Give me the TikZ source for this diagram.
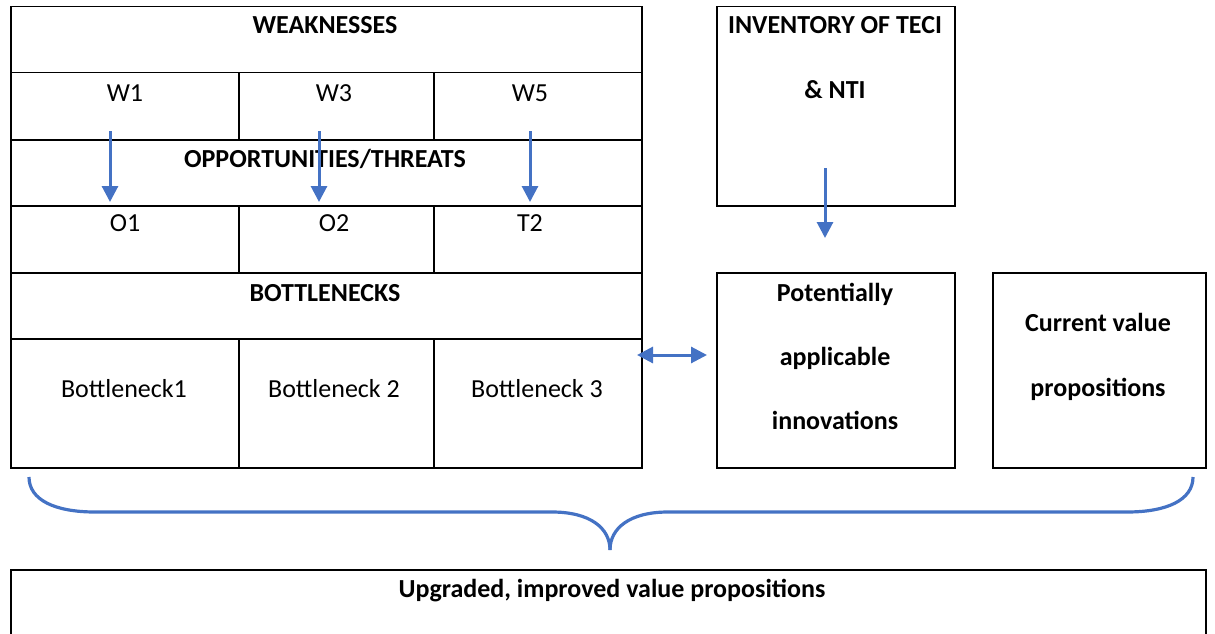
\documentclass[tikz,border=0pt]{standalone}
\usepackage{fontspec}
\setmainfont{Carlito}
\usetikzlibrary{arrows.meta}
\definecolor{accblue}{HTML}{4472C4}
\begin{document}
\begin{tikzpicture}[x=1pt,y=-1pt,
  cell/.style={draw, line width=1.5pt, inner sep=0pt, anchor=north west},
  txt/.style={anchor=base, inner sep=0pt, font=\fontsize{26}{30}\selectfont},
  btxt/.style={txt, font=\fontsize{26}{30}\selectfont\bfseries},
  flow/.style={accblue, line width=3pt, -{Triangle[width=16pt,length=16pt]}},
  both/.style={accblue, line width=3pt, {Triangle[width=16pt,length=16pt]}-{Triangle[width=16pt,length=16pt]}},
  brace/.style={accblue, line width=3.2pt}]
\clip (0,0) rectangle (1215,634);
\useasboundingbox (0,0) rectangle (1215,634);
% left table
\node[cell, minimum width=631pt, minimum height=66pt] (weak) at (10,6) {};
\node[cell, minimum width=228pt, minimum height=67pt] (w1) at (10,72) {};
\node[cell, minimum width=195pt, minimum height=67pt] (w3) at (238,72) {};
\node[cell, minimum width=208pt, minimum height=67pt] (w5) at (433,72) {};
\node[cell, minimum width=631pt, minimum height=66pt] (opp) at (10,139) {};
\node[cell, minimum width=228pt, minimum height=67pt] (o1) at (10,205) {};
\node[cell, minimum width=195pt, minimum height=67pt] (o2) at (238,205) {};
\node[cell, minimum width=208pt, minimum height=67pt] (t2) at (433,205) {};
\node[cell, minimum width=631pt, minimum height=66pt] (bott) at (10,272) {};
\node[cell, minimum width=228pt, minimum height=129pt] (b1) at (10,338) {};
\node[cell, minimum width=195pt, minimum height=129pt] (b2) at (238,338) {};
\node[cell, minimum width=208pt, minimum height=129pt] (b3) at (433,338) {};
% right boxes
\node[cell, minimum width=238pt, minimum height=199pt] (inv) at (716,6) {};
\node[cell, minimum width=238pt, minimum height=195pt] (pot) at (716,272) {};
\node[cell, minimum width=213pt, minimum height=195pt] (cur) at (992,272) {};
\node[cell, minimum width=1195pt, minimum height=100pt] (upg) at (10,569) {};
% texts
\node[btxt] (tweak) at (325,34) {WEAKNESSES};
\node[txt] (tw1) at (125,101) {W1};
\node[txt] (tw3) at (334,101) {W3};
\node[txt] (tw5) at (530,101) {W5};
\node[btxt] (topp) at (325,167) {OPPORTUNITIES/THREATS};
\node[txt] (to1) at (125,231) {O1};
\node[txt] (to2) at (334,231) {O2};
\node[txt] (tt2) at (530,231) {T2};
\node[btxt] (tbott) at (325,301) {BOTTLENECKS};
\node[txt] (tb1) at (124,397) {Bottleneck1};
\node[txt] (tb2) at (334,397) {Bottleneck 2};
\node[txt] (tb3) at (537,397) {Bottleneck 3};
\node[btxt] (tinv1) at (835,34) {INVENTORY OF TECI};
\node[btxt] (tinv2) at (835,99) {\& NTI};
\node[btxt] (tpot1) at (835,301) {Potentially};
\node[btxt] (tpot2) at (835,365) {applicable};
\node[btxt] (tpot3) at (835,429) {innovations};
\node[btxt] (tcur1) at (1098,331) {Current value};
\node[btxt] (tcur2) at (1098,396) {propositions};
\node[btxt] (tupg) at (612,597) {Upgraded, improved value propositions};
% arrows
\coordinate (a1s) at (110,131); \coordinate (a1e) at (110,202);
\coordinate (a3s) at (319,131); \coordinate (a3e) at (319,202);
\coordinate (a5s) at (530,131); \coordinate (a5e) at (530,202);
\coordinate (ais) at (825,168); \coordinate (aie) at (825,238);
\coordinate (dbl1) at (637,355); \coordinate (dbl2) at (707,355);
\draw[flow] (a1s) -- (a1e);
\draw[flow] (a3s) -- (a3e);
\draw[flow] (a5s) -- (a5e);
\draw[flow] (ais) -- (aie);
\draw[both] (dbl1) -- (dbl2);
% brace
\coordinate (brl) at (29,477);
\coordinate (brr) at (1193,477);
\coordinate (brm) at (610,550);
\draw[brace] (brl) .. controls (29,500) and (55,512) .. (95,512) -- (552,512)
  .. controls (590,512) and (610,528) .. (brm);
\draw[brace] (brr) .. controls (1193,500) and (1167,512) .. (1127,512) -- (668,512)
  .. controls (630,512) and (610,528) .. (brm);
\end{tikzpicture}
\end{document}
